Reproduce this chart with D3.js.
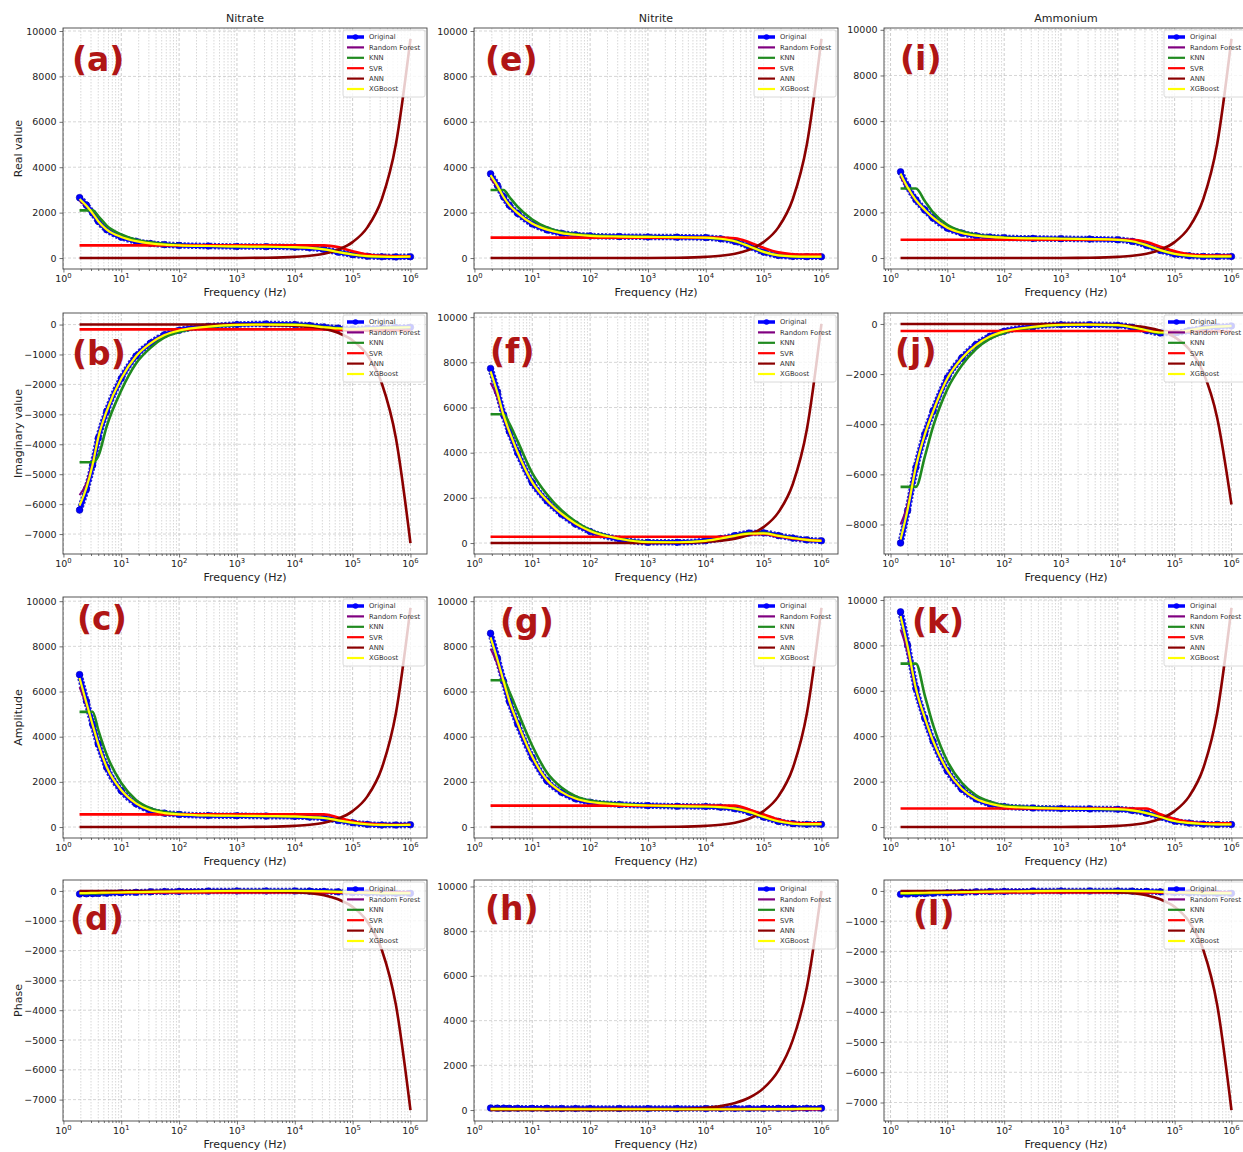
<!DOCTYPE html>
<html>
<head>
<meta charset="utf-8">
<script src="https://d3js.org/d3.v7.min.js"></script>
<style>
  body { margin: 0; background: #fff; }
  svg text { font-family: "DejaVu Sans", sans-serif; }
</style>
</head>
<body>
<svg id="chart" width="1243" height="1152"></svg>
<script>
// frequency grids (Hz)
const freqNN = [1.9, 2.5, 3.2, 4, 5.6, 10, 18, 32, 56, 100, 320, 1000, 3200, 1e4, 1.8e4, 3.2e4, 5.6e4, 1e5, 1.8e5, 3.2e5, 5.6e5, 1e6];
const freqAm = [1.5, 2, 2.8, 4, 5.6, 10, 18, 32, 56, 100, 320, 1000, 3200, 1e4, 1.8e4, 3.2e4, 5.6e4, 1e5, 1.8e5, 3.2e5, 5.6e5, 1e6];

const models = ['Original', 'Random Forest', 'KNN', 'SVR', 'ANN', 'XGBoost'];
const ions = ['Nitrate', 'Nitrite', 'Ammonium'];
const quantities = ['Real value', 'Imaginary value', 'Amplitude', 'Phase'];
const letters = [['(a)', '(b)', '(c)', '(d)'], ['(e)', '(f)', '(g)', '(h)'], ['(i)', '(j)', '(k)', '(l)']];

// each panel: [Original, Random Forest, KNN, SVR, ANN, XGBoost]
const realNitrate = [
  [2660, 2330, 1980, 1620, 1250, 920, 740, 640, 590, 560, 530, 510, 500, 480, 450, 380, 260, 150, 80, 55, 50, 60],
  [2520, 2280, 1960, 1610, 1250, 920, 740, 640, 590, 560, 530, 510, 500, 480, 450, 380, 260, 150, 80, 55, 50, 60],
  [2100, 2100, 2100, 1850, 1430, 1040, 810, 690, 620, 580, 540, 515, 500, 480, 455, 390, 270, 160, 85, 60, 55, 60],
  [560, 560, 560, 560, 560, 560, 560, 560, 560, 560, 560, 560, 560, 560, 560, 560, 480, 300, 160, 100, 80, 80],
  [0, 0, 0, 0, 0, 0, 0, 0, 0, 0, 1, 4, 14, 51, 98, 190, 365, 700, 1350, 2600, 5010, 9650],
  [2600, 2300, 1970, 1620, 1250, 930, 745, 645, 590, 560, 530, 510, 500, 480, 450, 385, 265, 155, 85, 60, 55, 60]
];
const imagNitrate = [
  [-6200, -5500, -4700, -3800, -2900, -1800, -1050, -620, -340, -190, -60, 0, 20, 0, -30, -80, -120, -150, -130, -110, -100, -90],
  [-5700, -5300, -4600, -3750, -2880, -1800, -1050, -620, -340, -190, -60, 0, 10, 0, -30, -80, -120, -150, -130, -110, -100, -90],
  [-4600, -4600, -4600, -4400, -3400, -2200, -1300, -780, -430, -250, -80, -10, 10, 0, -30, -80, -120, -150, -130, -110, -100, -90],
  [-160, -160, -160, -160, -160, -160, -160, -160, -160, -160, -160, -160, -160, -160, -160, -160, -180, -200, -200, -200, -200, -200],
  [0, 0, 0, 0, 0, 0, 0, 0, 0, 0, -1, -3, -10, -39, -74, -143, -276, -530, -1020, -1970, -3790, -7300],
  [-6050, -5450, -4680, -3780, -2890, -1800, -1060, -630, -350, -200, -70, -10, 0, -10, -40, -90, -130, -150, -130, -110, -100, -90]
];
const ampNitrate = [
  [6750, 5570, 4550, 3670, 2640, 1610, 1030, 730, 615, 560, 510, 500, 485, 470, 440, 400, 290, 190, 120, 90, 90, 100],
  [6200, 5400, 4480, 3640, 2630, 1610, 1030, 730, 615, 560, 510, 500, 485, 470, 440, 400, 290, 190, 120, 90, 90, 100],
  [5100, 5100, 5100, 4300, 3200, 1950, 1200, 830, 660, 590, 530, 505, 490, 470, 440, 400, 295, 195, 125, 95, 90, 100],
  [560, 560, 560, 560, 560, 560, 560, 560, 560, 560, 560, 560, 560, 560, 560, 560, 420, 250, 150, 110, 100, 100],
  [0, 0, 0, 0, 0, 0, 0, 0, 0, 0, 1, 4, 14, 51, 99, 191, 367, 704, 1357, 2614, 5036, 9700],
  [6600, 5500, 4530, 3680, 2660, 1640, 1050, 740, 620, 565, 515, 500, 485, 470, 440, 400, 295, 195, 125, 95, 90, 100]
];
const phaseNitrate = [
  [-100, -95, -90, -85, -75, -60, -45, -30, -20, -15, -5, 0, 0, 0, -5, -15, -30, -50, -65, -75, -80, -80],
  [-90, -85, -80, -75, -70, -55, -45, -30, -20, -15, -5, 0, 0, 0, -5, -15, -30, -50, -65, -75, -80, -80],
  [-85, -85, -85, -80, -70, -60, -45, -30, -20, -15, -5, 0, 0, 0, -5, -15, -30, -50, -65, -75, -80, -80],
  [-50, -50, -50, -50, -50, -50, -50, -50, -50, -50, -50, -50, -50, -50, -50, -50, -50, -50, -50, -50, -50, -50],
  [0, 0, 0, 0, 0, 0, 0, 0, 0, 0, -1, -3, -10, -39, -75, -144, -278, -535, -1030, -1980, -3820, -7350],
  [-70, -70, -65, -60, -55, -45, -40, -30, -20, -15, -5, 0, 0, 0, -5, -15, -30, -45, -60, -70, -75, -75]
];
const realNitrite = [
  [3710, 3200, 2690, 2330, 1965, 1500, 1240, 1090, 1020, 975, 945, 930, 920, 900, 845, 730, 510, 260, 115, 70, 60, 60],
  [3500, 3120, 2660, 2320, 1960, 1500, 1240, 1090, 1020, 975, 945, 930, 920, 900, 845, 730, 510, 260, 115, 70, 60, 60],
  [3000, 3000, 3000, 2700, 2250, 1700, 1350, 1150, 1060, 1000, 955, 935, 920, 900, 850, 740, 520, 270, 120, 75, 65, 65],
  [900, 900, 900, 900, 900, 900, 900, 900, 900, 900, 900, 900, 900, 900, 900, 870, 700, 450, 250, 170, 150, 150],
  [0, 0, 0, 0, 0, 0, 0, 0, 0, 0, 1, 4, 14, 51, 98, 190, 365, 700, 1350, 2600, 5010, 9650],
  [3650, 3180, 2690, 2340, 1980, 1520, 1250, 1100, 1025, 980, 945, 930, 920, 900, 850, 740, 520, 270, 120, 75, 65, 65]
];
const imagNitrite = [
  [7730, 6700, 5670, 4940, 3990, 2670, 1860, 1280, 840, 510, 175, 30, 30, 100, 200, 330, 440, 450, 330, 220, 140, 100],
  [7100, 6450, 5570, 4900, 3980, 2670, 1860, 1280, 840, 510, 175, 30, 30, 100, 200, 330, 440, 450, 330, 220, 140, 100],
  [5700, 5700, 5700, 5300, 4500, 3100, 2150, 1450, 950, 580, 200, 40, 30, 100, 200, 330, 440, 450, 330, 220, 140, 100],
  [280, 280, 280, 280, 280, 280, 280, 280, 280, 280, 280, 280, 280, 280, 280, 300, 380, 400, 300, 200, 140, 100],
  [0, 0, 0, 0, 0, 0, 0, 0, 0, 0, 1, 4, 14, 51, 99, 191, 367, 704, 1357, 2614, 5036, 9700],
  [7600, 6650, 5650, 4950, 4010, 2700, 1880, 1300, 860, 530, 190, 40, 35, 100, 200, 320, 420, 430, 320, 220, 140, 100]
];
const ampNitrite = [
  [8580, 7480, 6450, 5570, 4550, 3080, 2050, 1540, 1250, 1100, 1000, 950, 920, 910, 880, 810, 660, 440, 250, 150, 120, 120],
  [7900, 7200, 6350, 5540, 4540, 3080, 2050, 1540, 1250, 1100, 1000, 950, 920, 910, 880, 810, 660, 440, 250, 150, 120, 120],
  [6500, 6500, 6500, 6000, 5100, 3600, 2400, 1750, 1370, 1170, 1030, 960, 925, 910, 880, 815, 670, 450, 260, 160, 130, 130],
  [950, 950, 950, 950, 950, 950, 950, 950, 950, 950, 950, 950, 950, 950, 950, 950, 780, 560, 330, 200, 170, 170],
  [0, 0, 0, 0, 0, 0, 0, 0, 0, 0, 1, 4, 14, 51, 99, 191, 367, 704, 1357, 2614, 5036, 9700],
  [8400, 7420, 6450, 5600, 4600, 3120, 2080, 1560, 1260, 1110, 1005, 955, 925, 910, 880, 815, 670, 450, 255, 155, 125, 125]
];
const phaseNitrite = [
  [90, 85, 85, 80, 80, 75, 75, 70, 70, 70, 70, 65, 65, 65, 65, 70, 70, 75, 75, 80, 80, 85],
  [60, 55, 55, 50, 50, 45, 45, 40, 40, 40, 40, 40, 40, 40, 40, 40, 45, 45, 50, 50, 55, 55],
  [55, 55, 55, 50, 50, 45, 45, 40, 40, 40, 40, 40, 40, 40, 40, 40, 45, 45, 50, 50, 55, 55],
  [40, 40, 40, 40, 40, 40, 40, 40, 40, 40, 40, 40, 40, 40, 40, 40, 40, 40, 40, 40, 40, 40],
  [0, 0, 0, 0, 0, 0, 0, 0, 0, 0, 3, 10, 30, 98, 176, 314, 549, 980, 1764, 3136, 5488, 9800],
  [45, 45, 45, 40, 40, 40, 35, 35, 35, 35, 35, 35, 35, 35, 35, 35, 40, 40, 45, 45, 50, 50]
];
const realAmmonium = [
  [3780, 3130, 2550, 2110, 1750, 1310, 1090, 975, 920, 890, 860, 845, 830, 800, 730, 555, 335, 175, 100, 70, 70, 70],
  [3550, 3050, 2520, 2100, 1750, 1310, 1090, 975, 920, 890, 860, 845, 830, 800, 730, 555, 335, 175, 100, 70, 70, 70],
  [3050, 3050, 3050, 2500, 2000, 1450, 1170, 1020, 950, 900, 865, 845, 830, 800, 735, 565, 345, 185, 105, 75, 75, 75],
  [800, 800, 800, 800, 800, 800, 800, 800, 800, 800, 800, 800, 800, 800, 800, 700, 500, 300, 170, 120, 110, 110],
  [0, 0, 0, 0, 0, 0, 0, 0, 0, 0, 1, 4, 14, 51, 97, 189, 363, 697, 1343, 2588, 4985, 9600],
  [3700, 3100, 2540, 2120, 1770, 1330, 1100, 985, 925, 890, 860, 845, 830, 800, 735, 565, 345, 185, 105, 75, 75, 75]
];
const imagAmmonium = [
  [-8740, -7440, -5720, -4400, -3470, -2150, -1350, -820, -490, -290, -110, -30, -30, -50, -130, -260, -360, -360, -260, -160, -110, -80],
  [-8000, -7200, -5650, -4380, -3460, -2150, -1350, -820, -490, -290, -110, -30, -30, -50, -130, -260, -360, -360, -260, -160, -110, -80],
  [-6500, -6500, -6500, -5300, -4100, -2600, -1650, -1000, -600, -360, -140, -40, -30, -50, -130, -260, -360, -360, -260, -160, -110, -80],
  [-280, -280, -280, -280, -280, -280, -280, -280, -280, -280, -280, -280, -280, -280, -280, -280, -290, -300, -300, -300, -300, -300],
  [0, 0, 0, 0, 0, 0, 0, 0, 0, 0, -1, -3, -10, -38, -73, -141, -272, -523, -1010, -1940, -3740, -7200],
  [-8600, -7400, -5700, -4420, -3500, -2180, -1370, -840, -500, -300, -120, -40, -30, -50, -130, -250, -340, -340, -250, -160, -110, -80]
];
const ampAmmonium = [
  [9480, 8000, 6100, 4800, 3780, 2470, 1670, 1240, 1020, 900, 840, 815, 800, 785, 730, 610, 440, 260, 175, 130, 115, 115],
  [8700, 7700, 6020, 4780, 3770, 2470, 1670, 1240, 1020, 900, 840, 815, 800, 785, 730, 610, 440, 260, 175, 130, 115, 115],
  [7200, 7200, 7200, 5800, 4500, 2900, 1950, 1400, 1120, 960, 870, 825, 805, 785, 735, 620, 450, 270, 180, 135, 120, 120],
  [820, 820, 820, 820, 820, 820, 820, 820, 820, 820, 820, 820, 820, 820, 820, 820, 560, 350, 220, 170, 160, 160],
  [0, 0, 0, 0, 0, 0, 0, 0, 0, 0, 1, 4, 14, 51, 98, 190, 365, 700, 1350, 2600, 5010, 9650],
  [9300, 7950, 6100, 4820, 3800, 2500, 1690, 1250, 1030, 905, 845, 815, 800, 785, 735, 615, 445, 265, 180, 135, 120, 120]
];
const phaseAmmonium = [
  [-110, -100, -95, -85, -75, -60, -45, -30, -20, -15, -5, 0, 0, 0, -5, -15, -30, -50, -65, -75, -80, -80],
  [-95, -90, -85, -80, -70, -55, -45, -30, -20, -15, -5, 0, 0, 0, -5, -15, -30, -50, -65, -75, -80, -80],
  [-90, -90, -90, -80, -70, -60, -45, -30, -20, -15, -5, 0, 0, 0, -5, -15, -30, -50, -65, -75, -80, -80],
  [-50, -50, -50, -50, -50, -50, -50, -50, -50, -50, -50, -50, -50, -50, -50, -50, -50, -50, -50, -50, -50, -50],
  [0, 0, 0, 0, 0, 0, 0, 0, 0, 0, -1, -3, -10, -38, -74, -142, -274, -527, -1015, -1955, -3765, -7250],
  [-75, -70, -65, -60, -55, -45, -40, -30, -20, -15, -5, 0, 0, 0, -5, -15, -30, -45, -60, -70, -75, -75]
];

const panels = [
  [realNitrate, imagNitrate, ampNitrate, phaseNitrate],
  [realNitrite, imagNitrite, ampNitrite, phaseNitrite],
  [realAmmonium, imagAmmonium, ampAmmonium, phaseAmmonium]
];
const colFreq = [freqNN, freqNN, freqAm];

const colors = ['#0000ff', '#800080', '#1f8a1f', '#ff0000', '#8b0000', '#ffff00'];
const widths = [4.5, 2, 2.6, 2.6, 2.6, 2.2];

const svg = d3.select('svg#chart');
svg.append('rect').attr('width', 1243).attr('height', 1152).attr('fill', '#fff');

const colX = [63, 474, 884];
const rowY = [28, 313, 597, 880];
const W = 364, H = 241;
// panel letter offsets (dx, bottom of glyphs below top of frame)
const labelOff = [
  [[9, 50], [9, 59], [14, 40], [7, 57]],
  [[11, 50], [16, 57], [26, 43], [11, 47]],
  [[16, 49], [11, 57], [28, 43], [29, 52]]
];

const fmt = v => d3.format('d')(v).replace('-', '\u2212');

function drawPanel(ci, ri) {
  const L = colX[ci], T = rowY[ri];
  const freq = colFreq[ci];
  const series = panels[ci][ri];

  const lx = d3.extent(freq, f => Math.log10(f));
  const px = (lx[1] - lx[0]) * 0.05;
  const x = d3.scaleLog().domain([10 ** (lx[0] - px), 10 ** (lx[1] + px)]).range([L, L + W]);
  const ext = d3.extent(series.flat());
  const py = (ext[1] - ext[0]) * 0.05;
  const y = d3.scaleLinear().domain([ext[0] - py, ext[1] + py]).range([T + H, T]);
  const span = ext[1] - ext[0] + 2 * py;
  const yTicks = y.ticks(span > 9000 ? 5 : 8);

  const g = svg.append('g');
  const allX = x.ticks().filter(v => v >= x.domain()[0] && v <= x.domain()[1]);
  const majorX = allX.filter(v => Math.abs(Math.log10(v) - Math.round(Math.log10(v))) < 1e-9);
  const minorX = allX.filter(v => !majorX.includes(v));

  // grid
  g.selectAll('line.minor').data(minorX).join('line')
    .attr('x1', d => x(d)).attr('x2', d => x(d)).attr('y1', T).attr('y2', T + H)
    .attr('stroke', '#bdbdbd').attr('stroke-width', 0.6).attr('stroke-dasharray', '1.5,1.5');
  g.selectAll('line.majx').data(majorX).join('line')
    .attr('x1', d => x(d)).attr('x2', d => x(d)).attr('y1', T).attr('y2', T + H)
    .attr('stroke', '#b8b8b8').attr('stroke-width', 0.7).attr('stroke-dasharray', '3,2');
  g.selectAll('line.majy').data(yTicks).join('line')
    .attr('x1', L).attr('x2', L + W).attr('y1', d => y(d)).attr('y2', d => y(d))
    .attr('stroke', '#c4c4c4').attr('stroke-width', 0.7).attr('stroke-dasharray', '3,2');

  // clip
  const cid = `clip-${ci}-${ri}`;
  svg.append('clipPath').attr('id', cid).append('rect')
    .attr('x', L).attr('y', T).attr('width', W).attr('height', H);
  const plot = g.append('g').attr('clip-path', `url(#${cid})`);

  const line = d3.line().x((d, i) => x(freq[i])).y(d => y(d)).curve(d3.curveMonotoneX);

  series.forEach((vals, k) => {
    if (k === 0) {
      plot.append('path').attr('d', line(vals)).attr('fill', 'none')
        .attr('stroke', '#2a2ac8').attr('stroke-width', 6.5).attr('stroke-dasharray', '2.2,1.6');
      plot.append('path').attr('d', line(vals)).attr('fill', 'none')
        .attr('stroke', colors[0]).attr('stroke-width', widths[0]);
      plot.selectAll('circle.orig').data(vals).join('circle')
        .attr('cx', (d, i) => x(freq[i])).attr('cy', d => y(d)).attr('r', 3.3)
        .attr('fill', colors[0]).attr('stroke', '#0000b0').attr('stroke-width', 0.6);
    } else {
      plot.append('path').attr('d', line(vals)).attr('fill', 'none')
        .attr('stroke', colors[k]).attr('stroke-width', widths[k]).attr('stroke-linejoin', 'round');
    }
  });

  // axes
  g.append('g').attr('transform', `translate(0,${T + H})`)
    .call(d3.axisBottom(x).tickValues(majorX).tickSize(3.5).tickFormat(''));
  g.append('g').attr('transform', `translate(0,${T + H})`)
    .call(d3.axisBottom(x).tickValues(minorX).tickSize(2).tickFormat(''));
  g.selectAll('.domain').remove();
  g.selectAll('.tick line').attr('stroke', '#333').attr('stroke-width', 0.7);

  majorX.forEach(v => {
    const t = g.append('text').attr('x', x(v)).attr('y', T + H + 13)
      .attr('text-anchor', 'middle').attr('font-size', 9.5).attr('fill', '#222');
    t.append('tspan').text('10');
    t.append('tspan').attr('dy', -4).attr('font-size', 6.8).text(Math.round(Math.log10(v)));
  });
  g.append('text').attr('x', L + W / 2).attr('y', T + H + 27).attr('text-anchor', 'middle')
    .attr('font-size', 11).attr('fill', '#222').text('Frequency (Hz)');

  const ya = g.append('g').attr('transform', `translate(${L},0)`)
    .call(d3.axisLeft(y).tickValues(yTicks).tickSize(3.5).tickPadding(3).tickFormat(fmt));
  ya.select('.domain').remove();
  ya.selectAll('.tick line').attr('stroke', '#333').attr('stroke-width', 0.7);
  ya.selectAll('text').attr('font-size', 9.5).attr('fill', '#222').attr('font-family', '"DejaVu Sans", sans-serif');

  // frame
  g.append('rect').attr('x', L).attr('y', T).attr('width', W).attr('height', H)
    .attr('fill', 'none').attr('stroke', '#444').attr('stroke-width', 0.9);

  // legend
  const R = L + W;
  const lg = g.append('g');
  lg.append('rect').attr('x', R - 84).attr('y', T + 2).attr('width', 82).attr('height', 67).attr('rx', 2)
    .attr('fill', '#fff').attr('fill-opacity', 0.8).attr('stroke', '#d0d0d0').attr('stroke-width', 0.8);
  models.forEach((m, i) => {
    const yy = T + 9 + i * 10.4;
    lg.append('line').attr('x1', R - 80).attr('x2', R - 63).attr('y1', yy).attr('y2', yy)
      .attr('stroke', colors[i]).attr('stroke-width', i === 0 ? 3.5 : 2.2);
    if (i === 0) lg.append('circle').attr('cx', R - 71.5).attr('cy', yy).attr('r', 2.8).attr('fill', colors[0]);
    lg.append('text').attr('x', R - 58).attr('y', yy + 2.4).attr('font-size', 6.8).attr('fill', '#333').text(m);
  });

  // panel letter
  const [dx, db] = labelOff[ci][ri];
  g.append('text').attr('x', L + dx).attr('y', T + db - 7)
    .attr('font-family', 'Lato, "Liberation Sans", sans-serif').attr('font-weight', 'bold')
    .attr('font-size', 33).attr('fill', '#b01515').text(letters[ci][ri]);

  if (ri === 0) {
    g.append('text').attr('x', L + W / 2).attr('y', T - 6).attr('text-anchor', 'middle')
      .attr('font-size', 11).attr('fill', '#222').text(ions[ci]);
  }
  if (ci === 0) {
    g.append('text').attr('transform', `translate(22,${T + H / 2}) rotate(-90)`)
      .attr('text-anchor', 'middle').attr('font-size', 11).attr('fill', '#222').text(quantities[ri]);
  }
}

for (let ci = 0; ci < 3; ci++) {
  for (let ri = 0; ri < 4; ri++) drawPanel(ci, ri);
}
</script>
</body>
</html>
